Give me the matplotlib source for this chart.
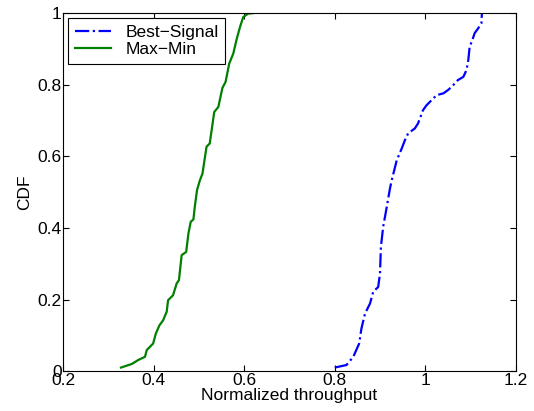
import matplotlib
matplotlib.use("Agg")
import matplotlib.pyplot as plt
from matplotlib.ticker import FuncFormatter

plt.rcParams['font.family'] = ['Liberation Sans', 'DejaVu Sans']

maxmin_x = [0.328, 0.352, 0.366, 0.381, 0.385, 0.399, 0.405, 0.413, 0.421, 0.429, 0.432, 0.443,
            0.451, 0.456, 0.462, 0.472, 0.477, 0.482, 0.488, 0.491, 0.496, 0.502, 0.508, 0.517,
            0.524, 0.534, 0.543, 0.552, 0.559, 0.567, 0.576, 0.583, 0.591, 0.598, 0.609, 0.62]
maxmin_y = [0.010, 0.020, 0.031, 0.040, 0.059, 0.077, 0.105, 0.128, 0.142, 0.166, 0.198, 0.212,
            0.245, 0.254, 0.324, 0.333, 0.385, 0.417, 0.424, 0.459, 0.506, 0.532, 0.552, 0.627,
            0.636, 0.724, 0.738, 0.791, 0.808, 0.859, 0.887, 0.925, 0.962, 0.989, 0.999, 1.0]

best_x = [0.800, 0.826, 0.841, 0.854, 0.859, 0.867, 0.878, 0.885, 0.896, 0.900, 0.902, 0.907,
          0.915, 0.922, 0.926, 0.937, 0.948, 0.955, 0.962, 0.977, 0.984, 0.995, 1.003, 1.014,
          1.025, 1.040, 1.050, 1.058, 1.072, 1.084, 1.091, 1.095, 1.098, 1.104, 1.109, 1.117,
          1.124, 1.125]
best_y = [0.010, 0.017, 0.040, 0.077, 0.119, 0.161, 0.189, 0.222, 0.235, 0.273, 0.347, 0.403,
          0.459, 0.510, 0.534, 0.589, 0.622, 0.645, 0.664, 0.678, 0.692, 0.729, 0.743, 0.757,
          0.771, 0.776, 0.785, 0.794, 0.813, 0.822, 0.841, 0.869, 0.906, 0.925, 0.944, 0.958,
          0.972, 1.0]

x_ticks = [0.2, 0.4, 0.6, 0.8, 1.0, 1.2]
y_ticks = [0, 0.2, 0.4, 0.6, 0.8, 1.0]

fig = plt.figure(figsize=(5.34, 4.11), dpi=100)
ax = fig.add_axes([0.118, 0.097, 0.848, 0.871])

ax.plot(best_x, best_y, color=(0, 0, 1), linestyle='-.', linewidth=1.6, label='Best\u2212Signal')
ax.plot(maxmin_x, maxmin_y, color=(0, 0.5, 0), linestyle='-', linewidth=1.6, label='Max\u2212Min')

ax.set_xlim(0.2, 1.2)
ax.set_ylim(0, 1)
ax.set_xticks(x_ticks)
ax.set_yticks(y_ticks)
fmt = FuncFormatter(lambda v, p: ('%g' % v))
ax.xaxis.set_major_formatter(fmt)
ax.yaxis.set_major_formatter(fmt)
ax.tick_params(direction='in', top=True, right=True, labelsize=12.5, length=4, pad=1)
for s in ax.spines.values():
    s.set_linewidth(0.8)

ax.set_xlabel('Normalized throughput', fontsize=12.5, labelpad=0)
ax.set_ylabel('CDF', fontsize=12.5, labelpad=4)

leg = ax.legend(loc='upper left', fontsize=12.5, fancybox=False, framealpha=1,
                edgecolor='black', handlelength=2.1, borderaxespad=0.3,
                borderpad=0.38, labelspacing=0.1, handletextpad=0.8)
leg.get_frame().set_linewidth(0.8)

fig.savefig('out.png', dpi=100)
